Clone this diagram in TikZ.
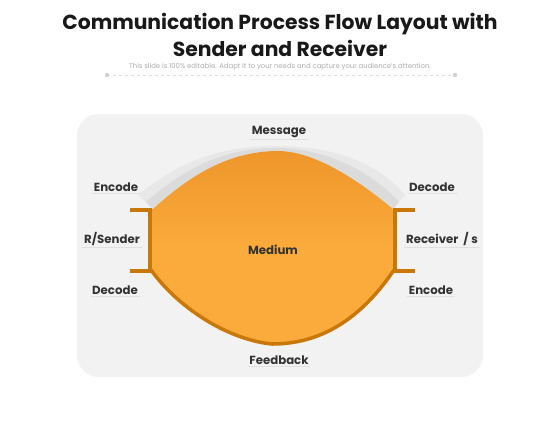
\documentclass[tikz,border=0pt]{standalone}
\usepackage{fontspec}
\setmainfont{Poppins}
\definecolor{panelbg}{HTML}{F2F2F2}
\definecolor{orangeA}{HTML}{EE962A}
\definecolor{orangeB}{HTML}{FBAA3C}
\definecolor{orangeD}{HTML}{C97808}
\definecolor{labeltxt}{HTML}{333333}
\tikzset{
  lbl/.style={font=\bfseries\fontsize{11.8}{14}\selectfont, text=labeltxt, inner sep=1.5pt,
    append after command={(\tikzlastnode.south west) edge[draw=black!12, line width=0.6bp] (\tikzlastnode.south east)}},
  brk/.style={draw=orangeD, line width=3.5bp},
}
\begin{document}
\begin{tikzpicture}[x=1bp,y=-1bp]
\useasboundingbox (0,0) rectangle (560,420);
\fill[white] (0,0) rectangle (560,420);
% title
\node[font=\bfseries\fontsize{20.4}{24}\selectfont, text=black!90] (t1) at (280,24) {Communication Process Flow Layout with};
\node[font=\bfseries\fontsize{20.4}{24}\selectfont, text=black!90] (t2) at (280,48) {Sender and Receiver};
\node[font=\fontsize{6.9}{8}\selectfont, text=black!32] (sub) at (280,67) {This slide is 100\% editable. Adapt it to your needs and capture your audience's attention.};
\coordinate (dl) at (107,75);
\coordinate (dr) at (455,75);
\draw[black!13, dashed, line width=0.6bp] (dl) -- (dr);
\fill[black!18] (dl) circle (2.2);
\fill[black!18] (dr) circle (2.2);
% panel
\fill[panelbg, rounded corners=22] (77,114) rectangle (483,377);
% gray shadow crescent (outer, lighter)
\fill[black!9] (138,195) .. controls (175,165) and (215,146) .. (275,146)
   .. controls (330,146) and (375,160) .. (405,195)
   -- (393,209) .. controls (370,190) and (320,151) .. (278,151)
   .. controls (225,151) and (185,180) .. (153,209) -- cycle;
% inner, darker
\fill[black!14] (146,202) .. controls (180,172) and (220,148) .. (276,148)
   .. controls (326,148) and (372,172) .. (399,202)
   -- (393,209) .. controls (370,190) and (320,151) .. (278,151)
   .. controls (225,151) and (185,180) .. (153,209) -- cycle;
% orange body
\shade[top color=orangeA, bottom color=orangeB, middle color=orangeB]
  (151,209) -- (153,209) .. controls (185,180) and (225,151) .. (278,151)
  .. controls (320,151) and (370,190) .. (393,209) -- (394,209) -- (394,270)
  .. controls (360,320) and (320,344) .. (272,344)
  .. controls (230,340) and (180,310) .. (151,270) -- cycle;
\draw[orangeD, line width=3.5bp] (394,270)
  .. controls (360,320) and (320,344) .. (272,344)
  .. controls (230,340) and (180,310) .. (151,270);
% brackets
\draw[brk] (130,210) -- (150,210) -- (150,271) -- (130,271);
\draw[brk] (415,210) -- (395,210) -- (395,271) -- (415,271);
% labels
\node[lbl] (msg) at (279,132) {Message};
\node[lbl] (encL) at (116,187) {Encode};
\node[lbl] (decR) at (432,187) {Decode};
\node[lbl] (snd) at (112,239) {R/Sender};
\node[lbl] (rcv) at (442,239) {Receiver~ / s};
\node[lbl] (decL) at (115,290) {Decode};
\node[lbl] (encR) at (431,290) {Encode};
\node[lbl] (fb) at (279,360) {Feedback};
\node[font=\bfseries\fontsize{11.8}{14}\selectfont, text=labeltxt] (med) at (273,250) {Medium};
\end{tikzpicture}
\end{document}
